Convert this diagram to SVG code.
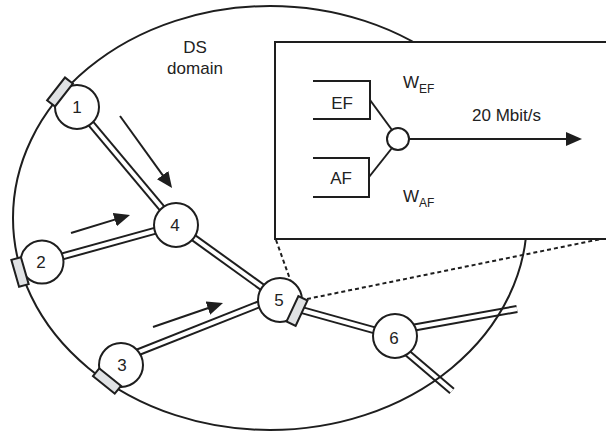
<svg xmlns="http://www.w3.org/2000/svg" width="606" height="434" viewBox="0 0 606 434">
<defs>
<style>
.lo{stroke:#1e1e1e;stroke-width:8;fill:none;stroke-linecap:butt}
.li{stroke:#fff;stroke-width:4;fill:none;stroke-linecap:butt}
.nd{fill:#fff;stroke:#1e1e1e;stroke-width:2}
.gr{fill:#e0e2e4;stroke:#1e1e1e;stroke-width:2}
.t{font-family:"Liberation Sans",Arial,sans-serif;font-size:17px;fill:#222}
.tc{text-anchor:middle}
.ar{stroke:#1e1e1e;stroke-width:2;fill:none;marker-end:url(#ah)}
.ds{stroke:#1e1e1e;stroke-width:2;fill:none;stroke-dasharray:4 3}
.ln{stroke:#1e1e1e;stroke-width:2;fill:none}
</style>
<marker id="ah" markerUnits="userSpaceOnUse" markerWidth="17" markerHeight="14" refX="12" refY="7" orient="auto">
<path d="M0,0 L16,7 L0,14 Z" fill="#1e1e1e"/>
</marker>
</defs>
<rect width="606" height="434" fill="#fff"/>
<g id="links">
<g class="lo">
<line x1="77" y1="107" x2="176" y2="225"/>
<line x1="42" y1="262" x2="176" y2="225"/>
<line x1="176" y1="225" x2="280" y2="300"/>
<line x1="121" y1="359" x2="280" y2="296"/>
<line x1="280" y1="304" x2="395" y2="336"/>
<line x1="395" y1="331" x2="517" y2="309"/>
<line x1="398" y1="345" x2="452" y2="391"/>
</g>
<g class="li">
<line x1="77" y1="107" x2="176" y2="225"/>
<line x1="42" y1="262" x2="176" y2="225"/>
<line x1="176" y1="225" x2="280" y2="300"/>
<line x1="121" y1="359" x2="280" y2="296"/>
<line x1="280" y1="304" x2="395" y2="336"/>
<line x1="395" y1="331" x2="517" y2="309"/>
<line x1="398" y1="345" x2="452" y2="391"/>
</g>
</g>
<ellipse id="domain" cx="270" cy="218" rx="257" ry="212" fill="none" stroke="#1e1e1e" stroke-width="2"/>
<g id="label-ds">
<text class="t tc" x="195" y="53">DS</text>
<text class="t tc" x="195" y="74">domain</text>
</g>
<g id="flows">
<line class="ar" x1="120" y1="116" x2="169.7" y2="184.8"/>
<line class="ar" x1="71" y1="233" x2="126.2" y2="216.1"/>
<line class="ar" x1="153" y1="327" x2="219.2" y2="304.3"/>
</g>
<g id="zoom-lines">
<line class="ds" x1="276" y1="240" x2="296" y2="296"/>
<line class="ds" x1="307" y1="299" x2="606" y2="238"/>
</g>
<g id="node1"><circle class="nd" cx="77" cy="107" r="22"/><rect class="gr" x="-14.5" y="-5" width="29" height="10" transform="translate(60,92) rotate(-52)"/><text class="t tc" x="77" y="113">1</text></g>
<g id="node2"><circle class="nd" cx="42" cy="262" r="21.5"/><rect class="gr" x="-5" y="-14" width="10" height="28" transform="translate(20,272) rotate(-16)"/><text class="t tc" x="41" y="268">2</text></g>
<g id="node3"><circle class="nd" cx="121" cy="365" r="22"/><rect class="gr" x="-14" y="-5" width="28" height="10" transform="translate(107,381) rotate(39)"/><text class="t tc" x="122" y="371">3</text></g>
<g id="node4"><circle class="nd" cx="176" cy="225" r="22"/><text class="t tc" x="175" y="231">4</text></g>
<g id="node5"><circle class="nd" cx="280" cy="300" r="22"/><rect class="gr" x="-5" y="-14" width="10" height="28" transform="translate(297,311) rotate(25)"/><text class="t tc" x="279" y="306">5</text></g>
<g id="node6"><circle class="nd" cx="395" cy="336" r="22"/><text class="t tc" x="394" y="344">6</text></g>
<g id="scheduler">
<rect x="275" y="42" width="345" height="197" fill="#fff" stroke="#1e1e1e" stroke-width="2"/>
<path class="ln" d="M313,81 H370 V119 H313"/>
<path class="ln" d="M313,158 H369 V197 H313"/>
<line class="ln" x1="370" y1="100" x2="392" y2="130"/>
<line class="ln" x1="369" y1="177" x2="392" y2="148"/>
<line class="ar" x1="409" y1="139" x2="578" y2="139"/>
<circle class="nd" cx="398" cy="139" r="11"/>
<text class="t tc" x="342" y="109">EF</text>
<text class="t tc" x="341" y="184">AF</text>
<text class="t" x="403" y="88">W<tspan font-size="12" dy="5">EF</tspan></text>
<text class="t" x="403" y="202">W<tspan font-size="12" dy="5">AF</tspan></text>
<text class="t" x="472" y="121">20 Mbit/s</text>
</g>
</svg>
